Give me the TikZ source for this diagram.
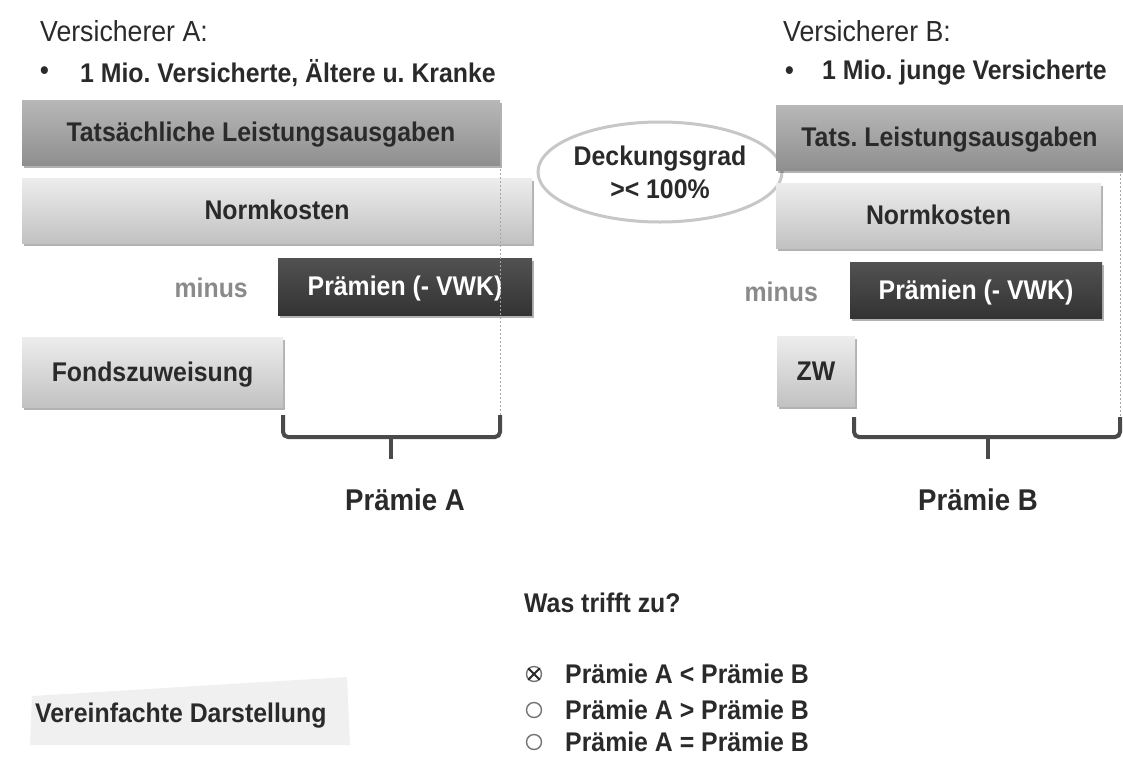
\documentclass[tikz,border=0pt]{standalone}
\usepackage{fontspec}
\setmainfont{Liberation Sans}[FakeStretch=0.92]
\usetikzlibrary{shapes.geometric,shadows}
\frenchspacing
\definecolor{txt}{HTML}{2A2A2A}
\definecolor{minusgray}{HTML}{8A8A8A}
\definecolor{brk}{HTML}{4A4A4A}
\newcommand{\fs}[1]{\fontsize{#1}{#1}\selectfont}
\tikzset{
  box/.style={rectangle, inner sep=0pt, text=txt, font=\fs{27}\bfseries,
    text height=18pt, text depth=0pt,
    drop shadow={shadow xshift=2pt, shadow yshift=-3pt, opacity=.3, fill=black}},
  darkgraybox/.style={box, top color=black!28, bottom color=black!44, middle color=black!36},
  lightbox/.style={box, top color=black!7, bottom color=black!24},
  blackbox/.style={box, top color=black!68, bottom color=black!80, text=white},
  guide/.style={draw=black!35, line width=1pt, dash pattern=on 2pt off 2pt},
  bracketline/.style={draw=brk, line width=4pt, rounded corners=5pt},
  heading/.style={anchor=west, text=txt, font=\fs{29}, inner sep=0pt},
  bold/.style={anchor=west, text=txt, font=\fs{27}\bfseries, inner sep=0pt},
  radio/.style={circle, draw=black!55, line width=1.4pt, minimum size=15pt, inner sep=0pt}
}
\begin{document}
\begin{tikzpicture}[x=1pt,y=-1pt]
\useasboundingbox (0,0) rectangle (1123,758);
\fill[white] (0,0) rectangle (1123,758);

% ---------- Versicherer A ----------
\node[heading] (hA) at (40,31) {Versicherer A:};
\node[bold] (bulA) at (40,73) {\textbullet};
\node[bold] (tA) at (80,73) {1 Mio. Versicherte, Ältere u. Kranke};

\node[darkgraybox, minimum width=478, minimum height=65] (tatsA) at (261,132.5) {Tatsächliche Leistungsausgaben};
\node[lightbox, minimum width=510, minimum height=65] (normA) at (277,210.5) {Normkosten};
\node[blackbox, minimum width=254, minimum height=57] (praemA) at (405,286.5) {Prämien (- VWK)};
\node[anchor=east, text=minusgray, font=\fs{27}\bfseries, inner sep=0pt] (minusA) at (248,288) {minus};
\node[lightbox, minimum width=261, minimum height=70] (fondsA) at (152.5,372) {Fondszuweisung};

\coordinate (gA1) at (500,165);
\coordinate (gA2) at (500,415);
\draw[guide] (gA1) -- (gA2);

\coordinate (bA1) at (283,415);
\coordinate (bA2) at (283,437);
\coordinate (bA3) at (500,437);
\coordinate (bA4) at (500,415);
\coordinate (sA1) at (391,437);
\coordinate (sA2) at (391,459);
\draw[bracketline] (bA1) -- (bA2) -- (bA3) -- (bA4);
\draw[draw=brk, line width=4pt] (sA1) -- (sA2);
\node[text=txt, font=\fs{30}\bfseries, inner sep=0pt] (pA) at (405,500) {Prämie A};

% ---------- Deckungsgrad ----------
\node[ellipse, draw=black!22, line width=3pt, fill=white, minimum width=204, minimum height=100, inner sep=0pt,
  text=txt, font=\fs{27}\bfseries, align=center] (deck) at (660,172)
  {Deckungsgrad\\[6pt]>< 100\%};

% ---------- Versicherer B ----------
\node[heading] (hB) at (783,31) {Versicherer B:};
\node[bold] (bulB) at (785,73) {\textbullet};
\node[bold] (tB) at (822,73) {1 Mio. junge Versicherte};

\node[darkgraybox, minimum width=347, minimum height=65] (tatsB) at (949.5,137.5) {Tats. Leistungsausgaben};
\node[lightbox, minimum width=325, minimum height=65] (normB) at (938.5,215.5) {Normkosten};
\node[blackbox, minimum width=252, minimum height=56] (praemB) at (976,290) {Prämien (- VWK)};
\node[anchor=east, text=minusgray, font=\fs{27}\bfseries, inner sep=0pt] (minusB) at (818,292) {minus};
\node[lightbox, minimum width=78, minimum height=70] (zwB) at (816,371) {ZW};

\coordinate (gB1) at (1120,170);
\coordinate (gB2) at (1120,417);
\draw[guide] (gB1) -- (gB2);

\coordinate (bB1) at (854,417);
\coordinate (bB2) at (854,437);
\coordinate (bB3) at (1120,437);
\coordinate (bB4) at (1120,417);
\coordinate (sB1) at (988,437);
\coordinate (sB2) at (988,459);
\draw[bracketline] (bB1) -- (bB2) -- (bB3) -- (bB4);
\draw[draw=brk, line width=4pt] (sB1) -- (sB2);
\node[text=txt, font=\fs{30}\bfseries, inner sep=0pt] (pB) at (978,500) {Prämie B};

% ---------- Frage ----------
\node[bold] (q) at (524,603) {Was trifft zu?};
\node[radio] (r1) at (534,674) {};
\draw[draw=txt, line width=2pt] (r1.north west) -- (r1.south east) (r1.north east) -- (r1.south west);
\node[radio] (r2) at (534,710) {};
\node[radio] (r3) at (534,742) {};
\node[bold] (o1) at (565,674) {Prämie A < Prämie B};
\node[bold] (o2) at (565,710) {Prämie A > Prämie B};
\node[bold] (o3) at (565,742) {Prämie A = Prämie B};

% ---------- Vereinfachte Darstellung ----------
\fill[black!6] (32,696) -- (347,677) -- (350,745) -- (30,745) -- cycle;
\node[bold] (vd) at (35,716) {Vereinfachte Darstellung};
\end{tikzpicture}
\end{document}
